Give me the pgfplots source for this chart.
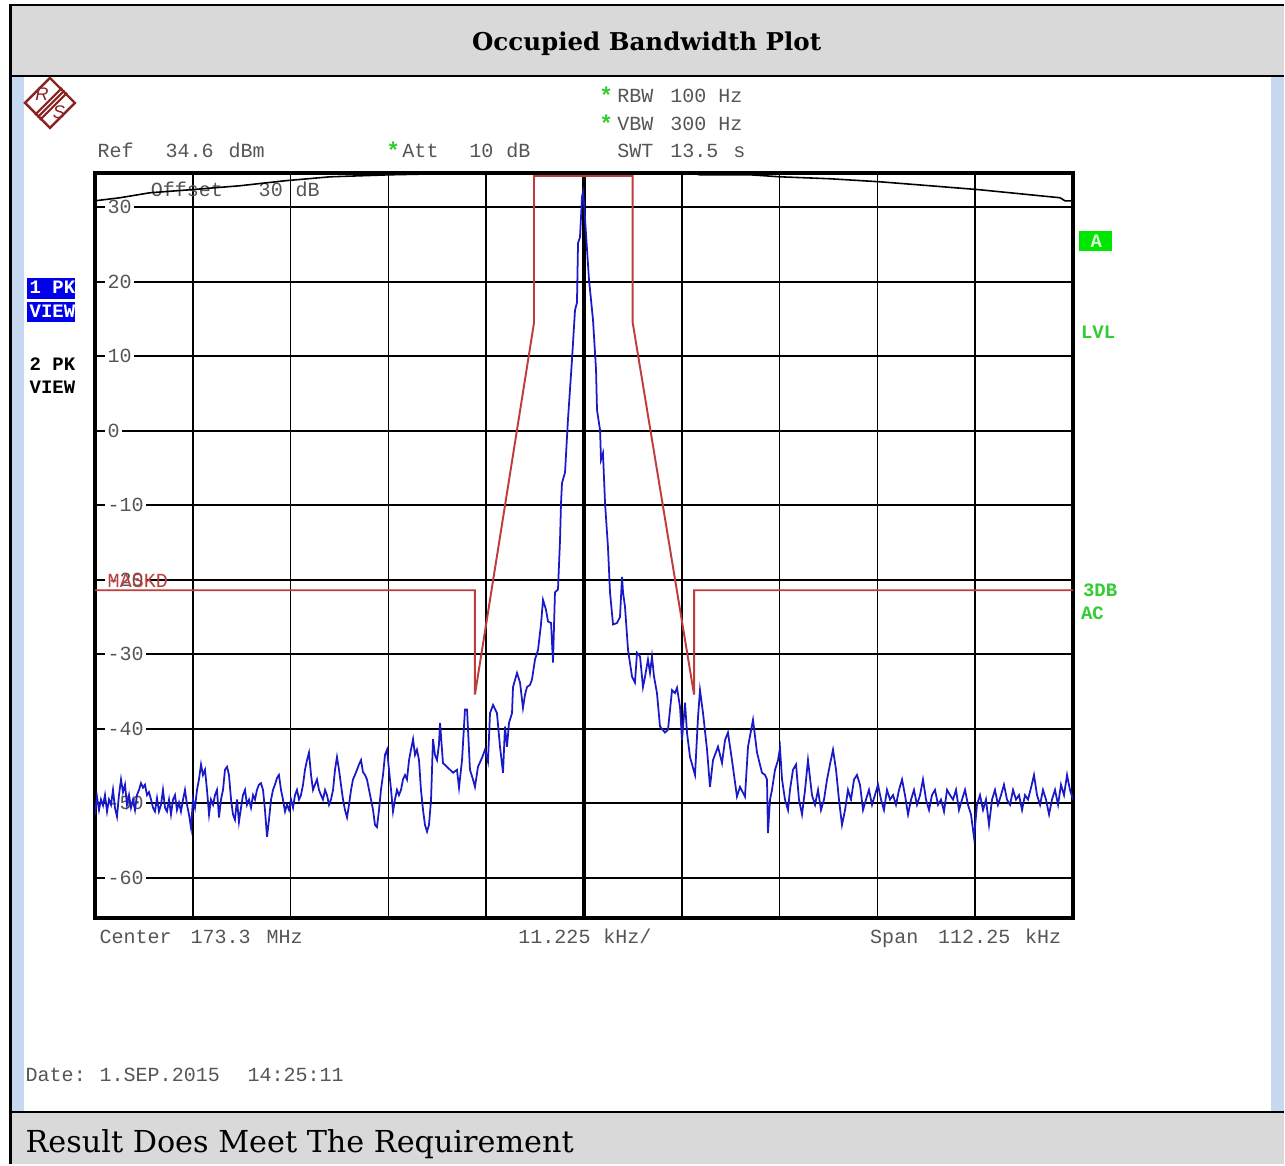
\documentclass[border=0pt]{standalone}
\usepackage{fontspec}
\usepackage{pgfplots}
\pgfplotsset{compat=1.18}
\newfontfamily\mono{Liberation Mono}
\newfontfamily\dserif{DejaVu Serif}
\newfontfamily\lsans{Liberation Sans}
\definecolor{bandgray}{HTML}{D9D9D9}
\definecolor{stripblue}{HTML}{C6D9F1}
\definecolor{txtgray}{HTML}{555555}
\definecolor{tracebl}{RGB}{25,25,200}
\definecolor{maskred}{RGB}{190,60,60}
\definecolor{lvlgreen}{RGB}{50,205,50}
\definecolor{boxgreen}{RGB}{0,230,0}
\definecolor{rsred}{RGB}{140,35,35}
\definecolor{pkblue}{RGB}{0,0,235}
\newcommand{\mtf}{\mono\fontsize{5.7pt}{6.5pt}\selectfont}
\begin{document}
\begin{tikzpicture}
\useasboundingbox (0,0) rectangle (12.85,-11.65);
\begin{scope}[x=0.01cm,y=-0.01cm]
\fill[white] (0,0) rectangle (1285,1165);
\fill[bandgray] (11,5) rectangle (1285,76);
\fill[bandgray] (11,1113) rectangle (1285,1165);
\fill[stripblue] (12,77) rectangle (24,1112);
\fill[stripblue] (1272,77) rectangle (1285,1112);
\draw[line width=0.7pt] (10.5,1165) -- (10.5,5) -- (1285,5);
\draw[line width=0.6pt] (10.5,76) -- (1285,76);
\draw[line width=0.6pt] (10.5,1113) -- (1285,1113);
% title and result
\node[anchor=base, inner sep=0] at (647,51) {\resizebox{3.49cm}{!}{\dserif\bfseries Occupied Bandwidth Plot}};
\node[anchor=base west, inner sep=0] at (25,1153) {\resizebox{5.48cm}{!}{\dserif Result Does Meet The Requirement}};
% R&S logo
\begin{scope}[shift={(50,103)}]
\draw[rsred, line width=0.7pt] (0,-25) -- (25,0) -- (0,25) -- (-25,0) -- cycle;
\draw[rsred, line width=0.6pt] (-15,12) -- (12,-15);
\draw[rsred, line width=0.6pt] (-12.5,14.5) -- (14.5,-12.5);
\draw[rsred, line width=0.6pt] (-10,17) -- (17,-10);
\node[rsred, inner sep=0, font=\lsans\itshape\fontsize{5.2pt}{6pt}\selectfont] at (-8,-9) {R};
\node[rsred, inner sep=0, font=\lsans\itshape\fontsize{5.2pt}{6pt}\selectfont] at (9,9) {S};
\end{scope}
% header texts
\begin{scope}[every node/.style={anchor=base west, inner sep=0, text=txtgray, font=\mtf}]
\node at (97,158) {Ref};
\node at (165,158) {34.6};
\node at (228,158) {dBm};
\node at (402,158) {Att};
\node at (469,158) {10};
\node at (506,158) {dB};
\node at (617,103) {RBW};
\node at (670,103) {100};
\node at (718,103) {Hz};
\node at (617,131) {VBW};
\node at (670,131) {300};
\node at (718,131) {Hz};
\node at (617,158) {SWT};
\node at (670,158) {13.5};
\node at (733,158) {s};
\node at (99,944) {Center};
\node at (190,944) {173.3};
\node at (266,944) {MHz};
\node at (518,944) {11.225};
\node at (603,944) {kHz/};
\node at (870,944) {Span};
\node at (938,944) {112.25};
\node at (1025,944) {kHz};
\node at (25,1082) {Date:};
\node at (99,1082) {1.SEP.2015};
\node at (247,1082) {14:25:11};
\end{scope}
\begin{scope}[every node/.style={anchor=base west, inner sep=0, text=lvlgreen, font=\mono\bfseries\fontsize{6.5pt}{7pt}\selectfont}]
\node at (599,104) {*};
\node at (599,132) {*};
\node at (386,159) {*};
\end{scope}
% left panel
\fill[pkblue] (27,278) rectangle (75,299);
\fill[pkblue] (27,302) rectangle (75,322);
\begin{scope}[every node/.style={anchor=base west, inner sep=0, font=\mono\bfseries\fontsize{5.4pt}{6pt}\selectfont}]
\node[text=white] at (29,294) {1 PK};
\node[text=white] at (29,318) {VIEW};
\node[text=black] at (29,371) {2 PK};
\node[text=black] at (29,394) {VIEW};
\end{scope}
% right panel
\fill[boxgreen] (1080,231) rectangle (1113,251);
\node[inner sep=0, text=white!85!green, font=\mono\bfseries\fontsize{5.4pt}{6pt}\selectfont] at (1097,241) {A};
\begin{scope}[every node/.style={anchor=base west, inner sep=0, text=lvlgreen, font=\mono\bfseries\fontsize{5.4pt}{6pt}\selectfont}]
\node at (1081,339) {LVL};
\node at (1083,597) {3DB};
\node at (1081,620) {AC};
\end{scope}
\end{scope}

\begin{axis}[at={(0.95cm,-9.18cm)}, anchor=south west, scale only axis,
  width=9.78cm, height=7.45cm,
  xmin=0, xmax=10, ymin=-65.4, ymax=34.6,
  xtick={0,1,...,10}, ytick={-60,-50,...,30},
  xticklabels={}, yticklabels={}, major tick length=0pt,
  grid=major, grid style={black, line width=0.5pt},
  axis line style={black, line width=0.9pt},
  clip=true]
\draw[black, line width=0.9pt] (axis cs:5,-65.4) -- (axis cs:5,34.6);
\foreach \v/\t in {30/30,20/20,10/10,0/0,-10/-10,-20/-20,-30/-30,-40/-40,-50/-50,-60/-60}{
  \edef\temp{\noexpand\node[anchor=west, fill=white, inner xsep=0.6pt, inner ysep=0.3pt, text=txtgray, font=\noexpand\mtf] at (axis cs:0.1,\v) {\t};}
  \temp
}
\node[anchor=base west, inner sep=0, text=txtgray, font=\mtf] at (axis cs:0.563,31.5) {Offset};
\node[anchor=base west, inner sep=0, text=txtgray, font=\mtf] at (axis cs:1.667,31.5) {30};
\node[anchor=base west, inner sep=0, text=txtgray, font=\mtf] at (axis cs:2.045,31.5) {dB};
\node[anchor=base west, inner sep=0, text=maskred, font=\mtf] at (axis cs:0.123,-21.0) {MASKD};
% display/limit curve at top
\addplot[black, line width=0.45pt] coordinates {
(0,30.87) (0.256,31.28) (0.562,31.95) (0.971,32.35) (1.483,32.89) (1.943,33.56) (2.403,34.09) (3.016,34.36) (3.528,34.50) (3.937,34.63)};
\addplot[black, line width=0.45pt] coordinates {
(6.084,34.63) (6.186,34.36) (6.697,34.36) (7.004,34.09) (7.515,33.83) (8.027,33.42) (8.538,32.89) (9.049,32.35) (9.560,31.68) (9.867,31.28) (9.918,30.87) (10,30.87)};
% mask
\addplot[maskred, line width=0.55pt] coordinates {
(0,-21.4) (3.885,-21.4) (3.885,-35.4) (4.489,14.5) (4.489,34.2) (5.498,34.2) (5.498,14.5) (6.125,-35.4) (6.125,-21.4) (10,-21.4)};
% trace
\addplot[tracebl, line width=0.5pt] coordinates {
(0,-51.5) (0.020,-49.1) (0.041,-50.9) (0.061,-49.5) (0.082,-50.3) (0.102,-48.9) (0.123,-51.1) (0.143,-49.5) (0.164,-50.2) (0.184,-48.2)
(0.204,-50.6) (0.225,-51.8) (0.245,-48.9) (0.266,-46.8) (0.286,-48.5) (0.307,-47.5) (0.327,-50.2) (0.348,-48.9) (0.368,-50.6) (0.389,-49.5)
(0.409,-50.9) (0.429,-48.9) (0.450,-48.2) (0.470,-47.3) (0.491,-47.9) (0.511,-47.5) (0.532,-48.9) (0.552,-48.5) (0.573,-49.5) (0.593,-50.6)
(0.613,-51.1) (0.634,-49.3) (0.654,-51.1) (0.675,-50.2) (0.695,-48.2) (0.716,-50.6) (0.736,-51.1) (0.757,-49.5) (0.777,-51.5) (0.798,-49.5)
(0.818,-48.9) (0.838,-50.9) (0.859,-49.9) (0.879,-51.1) (0.900,-49.5) (0.920,-48.2) (0.941,-50.2) (0.961,-51.5) (0.982,-53.3) (1.002,-49.5)
(1.022,-50.6) (1.043,-48.2) (1.063,-46.8) (1.084,-44.8) (1.104,-46.2) (1.125,-45.5) (1.145,-48.2) (1.166,-51.5) (1.186,-49.5) (1.207,-50.2)
(1.227,-48.9) (1.247,-48.2) (1.268,-51.9) (1.288,-49.5) (1.309,-48.2) (1.329,-45.5) (1.350,-45.1) (1.370,-46.2) (1.391,-49.5) (1.411,-51.5)
(1.431,-52.2) (1.452,-49.5) (1.472,-52.5) (1.493,-50.6) (1.513,-48.9) (1.534,-48.2) (1.554,-50.2) (1.575,-49.5) (1.595,-50.6) (1.616,-48.9)
(1.636,-49.5) (1.656,-48.2) (1.677,-47.5) (1.697,-47.3) (1.718,-48.2) (1.738,-50.9) (1.759,-54.5) (1.779,-52.2) (1.800,-49.5) (1.820,-48.2)
(1.840,-47.5) (1.861,-46.6) (1.881,-46.2) (1.902,-48.2) (1.922,-49.5) (1.943,-51.1) (1.963,-50.2) (1.984,-50.9) (2.004,-49.5) (2.025,-50.6)
(2.045,-48.9) (2.065,-48.2) (2.086,-49.5) (2.106,-48.9) (2.127,-47.5) (2.147,-45.5) (2.168,-44.2) (2.188,-43.2) (2.209,-46.2) (2.229,-48.2)
(2.249,-47.5) (2.270,-46.8) (2.290,-48.2) (2.311,-48.9) (2.331,-49.5) (2.352,-48.2) (2.372,-48.9) (2.393,-50.2) (2.413,-49.5) (2.434,-48.2)
(2.454,-45.5) (2.474,-43.8) (2.495,-45.5) (2.515,-47.5) (2.536,-49.5) (2.556,-50.9) (2.577,-51.9) (2.597,-50.2) (2.618,-48.2) (2.638,-46.8)
(2.658,-46.2) (2.679,-45.5) (2.699,-44.8) (2.720,-44.2) (2.740,-45.8) (2.761,-46.2) (2.781,-46.8) (2.802,-48.2) (2.822,-49.5) (2.843,-50.9)
(2.863,-52.9) (2.883,-53.2) (2.904,-50.9) (2.924,-48.2) (2.945,-46.2) (2.965,-43.5) (2.986,-42.8) (3.006,-45.5) (3.027,-48.2) (3.047,-51.1)
(3.067,-49.5) (3.088,-48.2) (3.108,-48.9) (3.129,-48.2) (3.149,-46.8) (3.170,-46.2) (3.190,-46.8) (3.211,-44.2) (3.231,-42.8) (3.252,-41.4)
(3.272,-43.5) (3.292,-42.8) (3.313,-44.2) (3.333,-48.2) (3.354,-50.9) (3.374,-52.9) (3.395,-53.8) (3.415,-52.9) (3.436,-49.5) (3.456,-41.4)
(3.476,-43.5) (3.497,-44.2) (3.517,-42.1) (3.528,-39.2) (3.558,-44.6) (3.599,-45.1) (3.630,-45.5) (3.661,-45.9) (3.701,-45.5) (3.722,-47.9)
(3.753,-44.2) (3.783,-37.4) (3.804,-37.4) (3.834,-45.5) (3.865,-46.8) (3.885,-47.8) (3.916,-45.1) (3.957,-43.9) (3.988,-42.8) (4.018,-44.4)
(4.039,-37.9) (4.070,-36.8) (4.110,-37.9) (4.141,-42.4) (4.172,-45.9) (4.192,-39.7) (4.213,-42.4) (4.233,-39.2) (4.264,-37.9) (4.274,-34.4)
(4.315,-32.5) (4.346,-33.8) (4.376,-37.2) (4.397,-35.4) (4.417,-34.4) (4.448,-34.1) (4.468,-33.4) (4.499,-30.7) (4.530,-29.4) (4.560,-26.0)
(4.581,-22.7) (4.611,-24.0) (4.632,-25.6) (4.663,-25.8) (4.683,-31.1) (4.703,-21.7) (4.734,-21.3) (4.755,-14.6) (4.765,-9.7) (4.775,-7.0)
(4.806,-5.6) (4.836,1.5) (4.877,9.5) (4.908,16.2) (4.928,17.2) (4.939,25.2) (4.959,26.0) (4.980,31.4) (4.990,32.1) (5.000,30.6)
(5.031,24.3) (5.051,20.3) (5.092,14.9) (5.123,8.2) (5.133,2.8) (5.164,0.1) (5.174,-3.9) (5.194,-3.0) (5.215,-9.7) (5.245,-15.6)
(5.266,-21.7) (5.297,-26.0) (5.337,-25.8) (5.368,-25.0) (5.389,-19.6) (5.399,-21.7) (5.419,-23.6) (5.450,-29.4) (5.491,-33.0) (5.521,-33.8)
(5.542,-29.8) (5.573,-30.3) (5.603,-34.4) (5.624,-33.0) (5.654,-30.7) (5.675,-32.5) (5.695,-30.3) (5.716,-33.0) (5.746,-35.2) (5.777,-39.7)
(5.828,-40.5) (5.859,-40.1) (5.900,-34.8) (5.930,-35.2) (5.951,-34.5) (5.982,-37.1) (6.002,-41.5) (6.033,-36.5) (6.053,-40.5) (6.084,-43.8)
(6.135,-46.2) (6.166,-38.4) (6.186,-34.8) (6.217,-37.9) (6.258,-42.8) (6.288,-47.8) (6.319,-44.2) (6.370,-42.4) (6.411,-44.6) (6.442,-41.5)
(6.472,-40.5) (6.513,-44.2) (6.564,-49.1) (6.595,-47.8) (6.646,-49.1) (6.677,-42.4) (6.728,-38.8) (6.769,-43.2) (6.820,-45.9) (6.851,-46.2)
(6.871,-46.8) (6.881,-54.0) (6.902,-49.5) (6.922,-48.2) (6.953,-45.5) (6.984,-44.2) (7.004,-42.6) (7.025,-46.8) (7.055,-49.5) (7.086,-50.9)
(7.106,-48.2) (7.137,-45.5) (7.168,-44.8) (7.198,-49.5) (7.229,-51.5) (7.260,-48.2) (7.290,-44.2) (7.331,-48.9) (7.362,-50.2) (7.393,-48.2)
(7.423,-50.9) (7.454,-49.5) (7.485,-46.8) (7.515,-44.8) (7.546,-42.8) (7.577,-45.5) (7.607,-49.5) (7.638,-52.9) (7.669,-50.9) (7.699,-48.2)
(7.730,-49.5) (7.761,-46.8) (7.791,-46.2) (7.822,-47.5) (7.853,-50.9) (7.883,-49.5) (7.914,-48.2) (7.945,-50.2) (7.975,-48.9) (8.006,-47.5)
(8.037,-49.5) (8.067,-50.9) (8.098,-48.2) (8.129,-49.5) (8.160,-48.9) (8.190,-50.2) (8.221,-48.2) (8.252,-46.8) (8.282,-48.9) (8.313,-51.5)
(8.344,-49.5) (8.374,-48.2) (8.405,-50.2) (8.436,-48.9) (8.466,-46.8) (8.497,-49.5) (8.528,-50.9) (8.558,-48.9) (8.589,-48.2) (8.620,-50.2)
(8.650,-49.5) (8.681,-51.1) (8.712,-48.2) (8.742,-48.9) (8.773,-49.5) (8.804,-48.2) (8.834,-50.9) (8.865,-49.5) (8.896,-48.2) (8.926,-50.2)
(8.957,-51.5) (8.988,-54.6) (9.018,-50.2) (9.049,-48.9) (9.080,-50.9) (9.110,-49.5) (9.141,-52.9) (9.172,-49.5) (9.202,-48.2) (9.233,-50.2)
(9.264,-48.9) (9.294,-47.5) (9.325,-49.5) (9.356,-50.2) (9.387,-48.2) (9.417,-49.5) (9.448,-48.9) (9.479,-50.9) (9.509,-48.9) (9.540,-49.5)
(9.571,-47.9) (9.601,-46.2) (9.632,-48.9) (9.663,-50.2) (9.693,-48.2) (9.724,-49.5) (9.755,-51.5) (9.785,-49.5) (9.816,-48.2) (9.847,-50.2)
(9.877,-47.5) (9.908,-48.9) (9.939,-46.2) (9.969,-48.2) (10.000,-49.5)};
\end{axis}
\end{tikzpicture}
\end{document}
